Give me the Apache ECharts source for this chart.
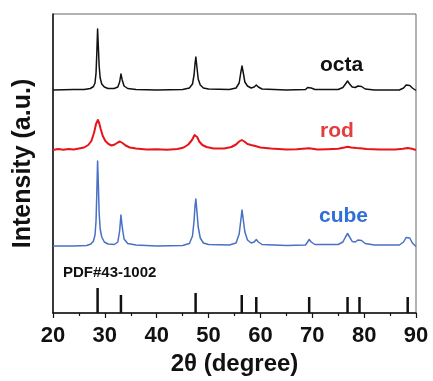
<!DOCTYPE html>
<html><head><meta charset="utf-8">
<script src="https://cdn.jsdelivr.net/npm/echarts@6/dist/echarts.min.js"></script>
<style>html,body{margin:0;padding:0;background:#fff}#c{width:433px;height:381px}</style>
</head><body><div id="c"></div>
<script>
// x tick labels
const xTicks = [20, 30, 40, 50, 60, 70, 80, 90];
// sample names
const sampleNames = ['octa', 'rod', 'cube'];
const refName = 'PDF#43-1002';
// octa pattern (2θ, stacked intensity)
const octa = [[20,223],[24,223.5],[26,223.5],[27.2,224.5],[27.8,226.5],[28.1,230],[28.3,240],[28.45,260],[28.6,284],[28.75,266],[28.9,247],[29.1,235],[29.4,229],[29.9,226],[30.6,224.5],[31.8,224.5],[32.5,226],[32.85,231],[33.1,239],[33.35,233],[33.7,227],[34.4,224.5],[36,223.5],[40,223],[45,223.5],[46.3,225],[46.9,229],[47.2,238],[47.4,250],[47.55,256],[47.75,246],[48,234],[48.4,228],[49,225],[50,224],[54,223.5],[55.3,225],[55.9,230],[56.2,240],[56.45,247],[56.7,240],[57,231],[57.5,227],[58.2,225],[58.8,226],[59.2,228],[59.6,226],[60.3,224],[65,223],[68.7,223.5],[69.1,225.5],[69.4,227],[69.8,225],[70.5,223.5],[75,223.5],[75.9,225.5],[76.4,229],[76.8,232],[77.2,229],[77.7,226],[78.3,225.5],[78.8,227],[79.1,228],[79.5,226.5],[80.2,224],[82,223],[86.8,223],[87.6,225],[88.1,228],[88.4,229],[88.8,227.5],[89.3,225],[90,222.5]];
// rod pattern
const rod = [[20,163],[21,164],[22,163.2],[23,164],[24,163.5],[25,164.5],[26,165.5],[26.8,168],[27.4,172],[27.9,180],[28.3,189],[28.65,193],[28.9,190],[29.2,184],[29.6,177],[30.1,172],[30.7,169],[31.3,167.5],[31.9,168.5],[32.5,170.5],[32.9,171.5],[33.4,170],[34,167.5],[34.8,165.5],[36,164.5],[38,163.5],[40,163.8],[42,163.2],[44,164],[45.2,165.5],[46.1,168.5],[46.8,173],[47.3,178],[47.5,179],[47.8,176],[48.2,171.5],[48.8,168],[49.6,166],[51,164.5],[53,164.5],[54.4,166],[55.3,168.5],[55.9,171.5],[56.4,173],[56.9,171.5],[57.5,169],[58.2,168],[59,167],[60,165.5],[62,164.5],[65,163.5],[67,163.8],[69.4,164.8],[71,163.6],[73,163.8],[75,164.2],[76.2,165.5],[76.8,166.3],[77.5,165.5],[78.5,165],[79.2,164.8],[80.5,164],[83,163.4],[86,163.5],[87.5,164.3],[88.4,165],[89.2,164.2],[90,163]];
// cube pattern
const cube = [[20,67],[24,67],[26.5,67.5],[27.3,69],[27.8,72],[28.1,78],[28.3,92],[28.45,120],[28.6,152],[28.75,128],[28.9,100],[29.1,84],[29.4,76],[29.9,71],[30.6,69],[31.8,68.5],[32.5,71],[32.85,82],[33.1,98],[33.35,86],[33.7,74],[34.4,69.5],[36,68],[40,67],[45,67.5],[46.3,69.5],[46.9,77],[47.2,92],[47.4,108],[47.55,114],[47.75,102],[48,86],[48.4,75],[49,70],[50,68.5],[54,68],[55.3,70],[55.9,79],[56.2,92],[56.45,103],[56.7,93],[57,81],[57.5,73],[58.2,70],[58.8,71],[59.2,73.5],[59.6,71],[60.3,68.5],[65,67.5],[68.7,68],[69.1,71],[69.4,73.5],[69.8,71],[70.5,68.5],[75,68.5],[75.9,71],[76.4,76],[76.8,79.5],[77.2,76],[77.7,71.5],[78.3,71],[78.8,73],[79.1,74.5],[79.5,72.5],[80.2,69.5],[82,68],[86.8,68],[87.6,71],[88.1,75.5],[88.4,77.5],[88.8,75],[89.3,70],[90,66.5]];
// reference pattern sticks
const pdfPos = [28.6, 33.1, 47.5, 56.4, 59.2, 69.4, 76.8, 79.1, 88.4];
const pdfInt = [25, 18, 20, 18, 16, 16, 16, 16, 16];

const FONT = '"Liberation Sans", Arial, sans-serif';
const chart = echarts.init(document.getElementById('c'), null, {renderer: 'canvas'});
chart.setOption({
  animation: false,
  backgroundColor: '#fff',
  grid: {left: 53, right: 17, top: 14, bottom: 68, show: true, borderColor: '#666', borderWidth: 1},
  xAxis: {
    type: 'value', min: xTicks[0], max: xTicks[xTicks.length - 1], interval: 10,
    name: '2θ (degree)', nameLocation: 'middle', nameGap: 36,
    nameTextStyle: {fontFamily: FONT, fontWeight: 'bold', fontSize: 24, color: '#111'},
    axisLine: {lineStyle: {color: '#111', width: 1.5}},
    axisTick: {show: true, length: 5, lineStyle: {color: '#111', width: 1.2}},
    minorTick: {show: true, splitNumber: 2, length: 3, lineStyle: {color: '#111', width: 1.2}},
    splitLine: {show: false},
    axisLabel: {fontFamily: FONT, fontWeight: 'bold', fontSize: 22, color: '#111', margin: 12}
  },
  yAxis: {
    type: 'value', min: 0, max: 299,
    name: 'Intensity (a.u.)', nameLocation: 'middle', nameGap: 17, nameRotate: 90,
    nameTextStyle: {fontFamily: FONT, fontWeight: 'bold', fontSize: 25, color: '#111'},
    axisLine: {show: true, lineStyle: {color: '#111', width: 1.5}},
    axisTick: {show: false}, axisLabel: {show: false}, splitLine: {show: false}
  },
  series: [
    {name: sampleNames[0], type: 'line', data: octa, symbol: 'none', lineStyle: {color: '#111', width: 1.5, join: 'round'}},
    {name: sampleNames[1], type: 'line', data: rod, symbol: 'none', lineStyle: {color: '#e8141a', width: 2, join: 'round'}},
    {name: sampleNames[2], type: 'line', data: cube, symbol: 'none', lineStyle: {color: '#4770c6', width: 1.5, join: 'round'}},
    {name: refName, type: 'bar', data: pdfPos.map((p, i) => [p, pdfInt[i]]), barWidth: 2.5, itemStyle: {color: '#111'}}
  ],
  graphic: [
    {type: 'text', left: 320, top: 55, style: {text: sampleNames[0], font: 'bold 21px ' + FONT, fill: '#111'}},
    {type: 'text', left: 320, top: 121, style: {text: sampleNames[1], font: 'bold 21px ' + FONT, fill: '#e33d3d'}},
    {type: 'text', left: 319, top: 206, style: {text: sampleNames[2], font: 'bold 21px ' + FONT, fill: '#2f6fd8'}},
    {type: 'text', left: 63, top: 265, style: {text: refName, font: 'bold 15px ' + FONT, fill: '#111'}}
  ]
});
</script></body></html>
